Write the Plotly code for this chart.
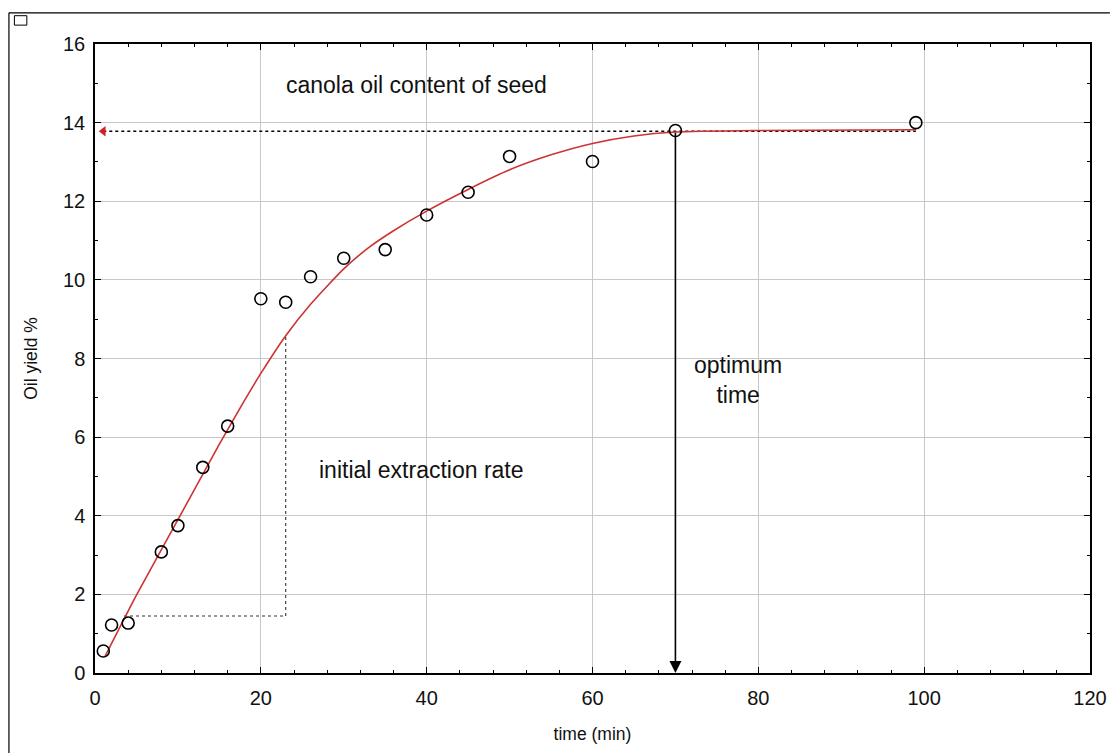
import plotly.graph_objects as go

# measured data
time_min = [1, 2, 4, 8, 10, 13, 16, 20, 23, 26, 30, 35, 40, 45, 50, 60, 70, 99]
oil_yield = [0.56, 1.22, 1.27, 3.08, 3.75, 5.23, 6.28, 9.52, 9.43, 10.08, 10.55,
             10.77, 11.65, 12.23, 13.14, 13.01, 13.8, 14.0]

# fitted curve
fit_t = [1.2, 5, 10, 15, 18, 20, 23, 26, 30, 33, 36, 40, 45, 50, 55, 60, 65, 70, 80, 99]
fit_y = [0.42, 1.98, 3.9, 5.82, 6.92, 7.62, 8.58, 9.38, 10.28, 10.82, 11.25, 11.75,
         12.3, 12.8, 13.18, 13.47, 13.66, 13.76, 13.8, 13.82]

# helper lines
oil_content = 13.78
content_t = [1.0, 99]
rate_h_t = [3.5, 23]
rate_h_y = [1.45, 1.45]
rate_v_t = [23, 23]
rate_v_y = [1.45, 8.6]
optimum_t = 70

x_ticks = [0, 20, 40, 60, 80, 100, 120]
y_ticks = [0, 2, 4, 6, 8, 10, 12, 14, 16]

FONT = "Liberation Sans, Arial, sans-serif"

fig = go.Figure()

fig.add_trace(go.Scatter(x=content_t, y=[oil_content] * len(content_t), mode="lines",
                         line=dict(color="black", width=1.6, dash="dot"),
                         showlegend=False, hoverinfo="skip"))
fig.add_trace(go.Scatter(x=rate_h_t, y=rate_h_y, mode="lines",
                         line=dict(color="#333333", width=1.1, dash="dot"),
                         showlegend=False, hoverinfo="skip"))
fig.add_trace(go.Scatter(x=rate_v_t, y=rate_v_y, mode="lines",
                         line=dict(color="#333333", width=1.1, dash="dot"),
                         showlegend=False, hoverinfo="skip"))
fig.add_trace(go.Scatter(x=fit_t, y=fit_y, mode="lines",
                         line=dict(color="#cc3333", width=1.6, shape="spline", smoothing=0.6),
                         showlegend=False))
fig.add_trace(go.Scatter(x=time_min, y=oil_yield, mode="markers",
                         marker=dict(symbol="circle-open", size=12, color="black",
                                     line=dict(width=1.6, color="black")),
                         showlegend=False))
# red arrow head at the start of the oil content line
fig.add_trace(go.Scatter(x=[1.0], y=[oil_content], mode="markers",
                         marker=dict(symbol="triangle-left", size=9, color="#d42020"),
                         showlegend=False, hoverinfo="skip"))

# optimum time arrow
fig.add_annotation(x=optimum_t, y=0, ax=optimum_t, ay=oil_content,
                   xref="x", yref="y", axref="x", ayref="y",
                   showarrow=True, arrowhead=2, arrowsize=1.5, arrowwidth=1.6,
                   arrowcolor="black", text="")

ann_font = dict(family=FONT, size=23, color="#111111")
fig.add_annotation(x=38.8, y=14.95, text="canola oil content of seed", showarrow=False,
                   font=ann_font, xref="x", yref="y")
fig.add_annotation(x=77.6, y=7.45, text="optimum<br>time", showarrow=False,
                   font=ann_font, xref="x", yref="y")
fig.add_annotation(x=39.4, y=5.16, text="initial extraction rate", showarrow=False,
                   font=ann_font, xref="x", yref="y")

# outer frame of the original figure
fig.add_shape(type="line", xref="paper", yref="paper", x0=-0.0865, x1=1.02, y0=1.0495, y1=1.0495,
              line=dict(color="black", width=1.2))
fig.add_shape(type="line", xref="paper", yref="paper", x0=-0.0865, x1=-0.0865, y0=-0.13, y1=1.0495,
              line=dict(color="black", width=1.2))
fig.add_shape(type="rect", xref="paper", yref="paper", x0=-0.081, x1=-0.0685, y0=1.03, y1=1.045,
              line=dict(color="black", width=1), fillcolor="white")

tick_font = dict(family=FONT, size=20, color="#111111")
title_font = dict(family=FONT, size=17.5, color="#111111")
fig.update_xaxes(range=[0, 120], tickvals=x_ticks, ticktext=[str(v) for v in x_ticks],
                 ticks="inside", ticklen=6, tickcolor="black", tickwidth=1.2,
                 showline=True, linecolor="black", linewidth=1.5, mirror="ticks",
                 showgrid=True, gridcolor="#c8c8c8", gridwidth=1, zeroline=False,
                 minor=dict(dtick=4, ticks="inside", ticklen=3, tickcolor="black", showgrid=False),
                 tickfont=tick_font, ticklabelstandoff=6,
                 title=dict(text="time (min)", font=title_font, standoff=20))
fig.update_yaxes(range=[0, 16], tickvals=y_ticks, ticktext=[str(v) for v in y_ticks],
                 ticks="inside", ticklen=6, tickcolor="black", tickwidth=1.2,
                 showline=True, linecolor="black", linewidth=1.5, mirror="ticks",
                 showgrid=True, gridcolor="#c8c8c8", gridwidth=1, zeroline=False,
                 minor=dict(dtick=1, ticks="inside", ticklen=3, tickcolor="black", showgrid=False),
                 tickfont=tick_font, ticklabelstandoff=4,
                 title=dict(text="Oil yield %", font=title_font, standoff=21))

fig.update_layout(width=1119, height=753, plot_bgcolor="white", paper_bgcolor="white",
                  margin=dict(l=95, r=19, t=44, b=79), showlegend=False)

fig.write_html("out.html")
